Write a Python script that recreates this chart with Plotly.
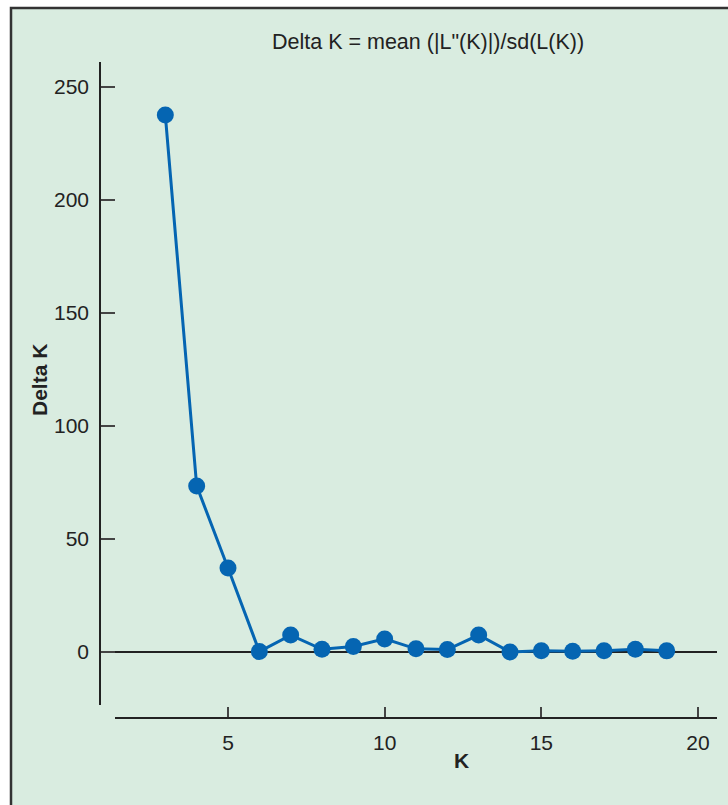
import plotly.graph_objects as go

k_values = [3, 4, 5, 6, 7, 8, 9, 10, 11, 12, 13, 14, 15, 16, 17, 18, 19]
delta_k = [237.6, 73.5, 37.2, 0.2, 7.5, 1.2, 2.4, 5.8, 1.4, 1.1, 7.5, 0.0, 0.6, 0.3, 0.6, 1.2, 0.5]
y_ticks = [0, 50, 100, 150, 200, 250]
x_ticks = [5, 10, 15, 20]

W, H = 728, 805
FONT = "Liberation Sans, Arial, sans-serif"
TXT = "#222222"
BLUE = "#0565b2"
BG = "#d9ece0"

def px(x):
    return x / W

def py(y):
    return 1 - y / H

fig = go.Figure()
fig.add_trace(go.Scatter(
    x=k_values, y=delta_k, mode="lines+markers",
    line=dict(color=BLUE, width=3),
    marker=dict(color=BLUE, size=17),
    showlegend=False, cliponaxis=False,
))

fig.update_layout(
    width=W, height=H, autosize=False,
    margin=dict(l=0, r=0, t=0, b=0),
    paper_bgcolor="white",
    plot_bgcolor="rgba(0,0,0,0)",
    font=dict(family=FONT, size=21, color=TXT),
    xaxis=dict(
        domain=[px(115), px(717)], range=[1.3936, 20.606],
        anchor="free", position=py(718),
        showline=True, linecolor="#222222", linewidth=1.5,
        ticks="inside", ticklen=10, tickwidth=1.5, tickcolor="#444444",
        tickvals=x_ticks, ticklabelstandoff=6,
        showgrid=False, zeroline=False,
        tickfont=dict(size=21, color=TXT),
    ),
    yaxis=dict(
        domain=[py(705), py(62)], range=[-23.45, 261.06],
        anchor="free", position=px(100),
        showline=True, linecolor="#222222", linewidth=1.5,
        ticks="inside", ticklen=14, tickwidth=1.5, tickcolor="#444444",
        tickvals=y_ticks, ticklabelstandoff=6,
        showgrid=False, zeroline=True, zerolinecolor="#222222", zerolinewidth=1.5,
        tickfont=dict(size=21, color=TXT),
    ),
    shapes=[dict(
        type="rect", xref="paper", yref="paper",
        x0=px(11), x1=1.2, y0=-0.2, y1=py(8),
        line=dict(color="#333333", width=2.5), fillcolor=BG, layer="below",
    )],
    annotations=[
        dict(text="Delta K = mean (|L\"(K)|)/sd(L(K))", xref="paper", yref="paper",
             x=px(428), y=py(42), showarrow=False, xanchor="center", yanchor="middle",
             font=dict(size=21.5, color=TXT, family=FONT)),
        dict(text="<b>Delta K</b>", xref="paper", yref="paper",
             x=px(39), y=py(380), showarrow=False, xanchor="center", yanchor="middle",
             textangle=-90, font=dict(size=21, color=TXT, family=FONT)),
        dict(text="<b>K</b>", xref="paper", yref="paper",
             x=px(461), y=py(760), showarrow=False, xanchor="center", yanchor="middle",
             font=dict(size=21, color=TXT, family=FONT)),
    ],
)

fig.write_html(
    "out.html",
    config={"displayModeBar": False},
    post_script="document.body.style.margin='0';document.body.style.overflow='hidden';",
)
